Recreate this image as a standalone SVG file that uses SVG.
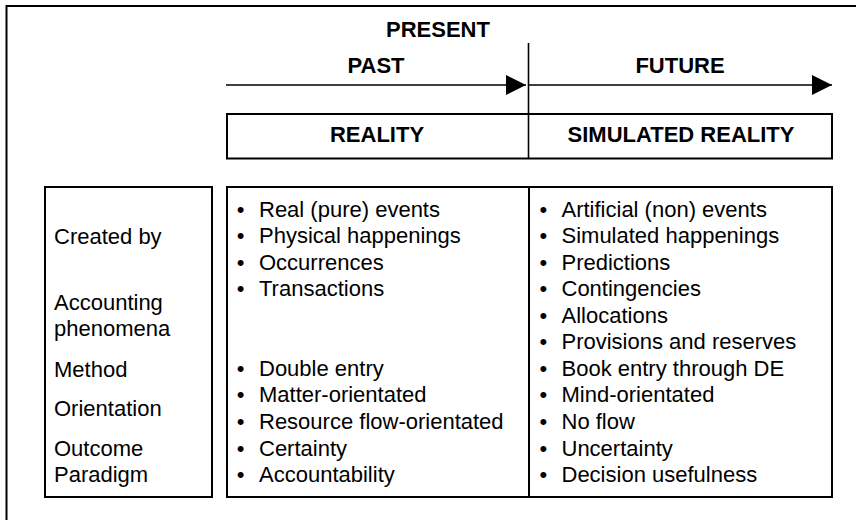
<svg xmlns="http://www.w3.org/2000/svg" width="856" height="520" viewBox="0 0 856 520">
  <style>
    .box { fill: #ffffff; stroke: #000000; stroke-width: 2; }
    .ln { stroke: #000000; stroke-width: 1.6; fill: none; }
    .hd { font-family: "Liberation Sans", Arial, Helvetica, sans-serif; font-weight: bold; font-size: 22px; fill: #000000; text-anchor: middle; }
    .tx { font-family: "Liberation Sans", Arial, Helvetica, sans-serif; font-size: 22px; fill: #000000; }
  </style>
  <defs>
    <marker id="arrow" markerUnits="userSpaceOnUse" markerWidth="20" markerHeight="20" refX="20" refY="10" orient="auto" viewBox="0 0 20 20">
      <path d="M0,0 L20,10 L0,20 z" fill="#000000"/>
    </marker>
  </defs>
  <rect x="0" y="0" width="856" height="520" fill="#ffffff"/>
  <path d="M6.5,522 L6.5,6 L858,6" class="ln" style="stroke-width:2"/>

  <g id="timeline-labels">
    <text class="hd" x="438" y="37">PRESENT</text>
    <text class="hd" x="376" y="73">PAST</text>
    <text class="hd" x="680" y="73">FUTURE</text>
  </g>

  <g id="reality-header">
    <rect class="box" x="227" y="114" width="605" height="44.5"/>
    <text class="hd" x="377" y="142">REALITY</text>
    <text class="hd" x="681" y="142">SIMULATED REALITY</text>
  </g>

  <g id="criteria">
    <rect class="box" x="45" y="187" width="167" height="310"/>
    <text class="tx" x="54" y="244">Created by</text>
    <text class="tx" x="54" y="310">Accounting</text>
    <text class="tx" x="54" y="336">phenomena</text>
    <text class="tx" x="54" y="377">Method</text>
    <text class="tx" x="54" y="416">Orientation</text>
    <text class="tx" x="54" y="456">Outcome</text>
    <text class="tx" x="54" y="482">Paradigm</text>
  </g>

  <g id="comparison-table">
    <rect class="box" x="227" y="187" width="605" height="310"/>
  </g>

  <g id="reality">
    <text class="tx" x="236.8" y="216.5">•</text><text class="tx" x="259" y="216.5">Real (pure) events</text>
    <text class="tx" x="236.8" y="243">•</text><text class="tx" x="259" y="243">Physical happenings</text>
    <text class="tx" x="236.8" y="269.6">•</text><text class="tx" x="259" y="269.6">Occurrences</text>
    <text class="tx" x="236.8" y="296.2">•</text><text class="tx" x="259" y="296.2">Transactions</text>
    <text class="tx" x="236.8" y="375.8">•</text><text class="tx" x="259" y="375.8">Double entry</text>
    <text class="tx" x="236.8" y="402.4">•</text><text class="tx" x="259" y="402.4">Matter-orientated</text>
    <text class="tx" x="236.8" y="428.9">•</text><text class="tx" x="259" y="428.9">Resource flow-orientated</text>
    <text class="tx" x="236.8" y="455.5">•</text><text class="tx" x="259" y="455.5">Certainty</text>
    <text class="tx" x="236.8" y="482">•</text><text class="tx" x="259" y="482">Accountability</text>
  </g>

  <g id="simulated-reality">
    <text class="tx" x="539.5" y="216.5">•</text><text class="tx" x="561.5" y="216.5">Artificial (non) events</text>
    <text class="tx" x="539.5" y="243">•</text><text class="tx" x="561.5" y="243">Simulated happenings</text>
    <text class="tx" x="539.5" y="269.6">•</text><text class="tx" x="561.5" y="269.6">Predictions</text>
    <text class="tx" x="539.5" y="296.2">•</text><text class="tx" x="561.5" y="296.2">Contingencies</text>
    <text class="tx" x="539.5" y="322.7">•</text><text class="tx" x="561.5" y="322.7">Allocations</text>
    <text class="tx" x="539.5" y="349.3">•</text><text class="tx" x="561.5" y="349.3">Provisions and reserves</text>
    <text class="tx" x="539.5" y="375.8">•</text><text class="tx" x="561.5" y="375.8">Book entry through DE</text>
    <text class="tx" x="539.5" y="402.4">•</text><text class="tx" x="561.5" y="402.4">Mind-orientated</text>
    <text class="tx" x="539.5" y="428.9">•</text><text class="tx" x="561.5" y="428.9">No flow</text>
    <text class="tx" x="539.5" y="455.5">•</text><text class="tx" x="561.5" y="455.5">Uncertainty</text>
    <text class="tx" x="539.5" y="482">•</text><text class="tx" x="561.5" y="482">Decision usefulness</text>
  </g>

  <g id="connectors">
    <line class="ln" x1="226" y1="85" x2="526" y2="85" marker-end="url(#arrow)"/>
    <line class="ln" x1="529" y1="85" x2="832" y2="85" marker-end="url(#arrow)"/>
    <line class="ln" x1="528.5" y1="43" x2="528.5" y2="158.5"/>
    <line class="ln" x1="529" y1="187" x2="529" y2="497" style="stroke-width:2"/>
  </g>
</svg>
